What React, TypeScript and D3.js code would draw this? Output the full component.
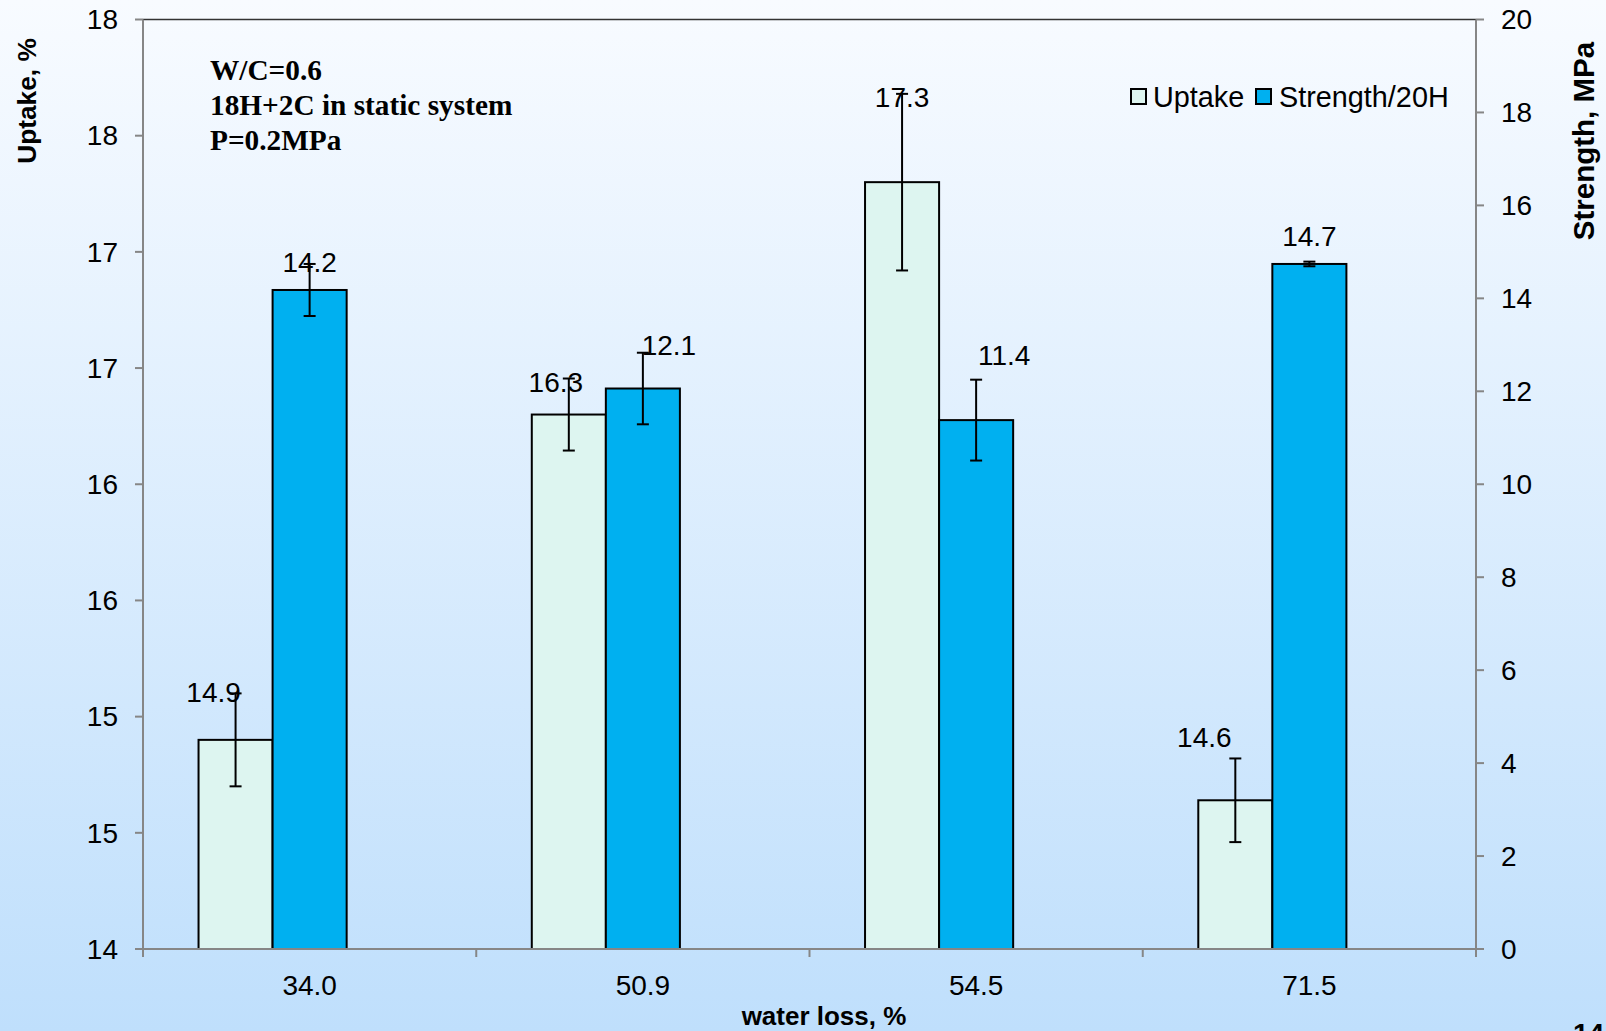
import React from "react";
import * as d3 from "d3";

// Water loss categories (x axis)
const categories = ["34.0", "50.9", "54.5", "71.5"];
// Uptake, % (left axis) and its error
const uptake = [14.9, 16.3, 17.3, 14.64];
const uptakeErr = [0.2, 0.155, 0.38, 0.18];
// Strength after 20 h, MPa (right axis) and its error
const strength = [14.18, 12.06, 11.38, 14.74];
const strengthErr = [0.56, 0.77, 0.87, 0.05];

const leftTicks = d3.range(14, 18.001, 0.5);
const rightTicks = d3.range(0, 20.001, 2);
const noteLines = ["W/C=0.6", "18H+2C in static system", "P=0.2MPa"];

const W = 1606;
const H = 1031;
const M = { left: 143, right: 1476, top: 19.5, bottom: 949 };
const SANS = "'Liberation Sans', Arial, sans-serif";
const SERIF = "'Liberation Serif', 'Times New Roman', serif";
const AXIS = "#868686";

// hand-placed data label nudges (dx, dy above bar top)
const uptakeLabelNudge = [[-22, 38], [-13, 23], [0, 75], [-31, 53]];
const strengthLabelNudge = [[0, 18], [26, 34], [28, 55], [0, 18]];

export default function App() {
  const x = d3
    .scaleBand<string>()
    .domain(categories)
    .range([M.left, M.right])
    .paddingInner(1 / 3)
    .paddingOuter(1 / 6);
  const slot = d3
    .scaleBand<string>()
    .domain(["uptake", "strength", "spare"])
    .range([0, x.bandwidth()]);
  const yL = d3.scaleLinear().domain([14, 18]).range([M.bottom, M.top]);
  const yR = d3.scaleLinear().domain([0, 20]).range([M.bottom, M.top]);
  const fmt0 = d3.format(".0f");
  const fmt1 = d3.format(".1f");
  const step = x.step();
  const bounds = d3.range(categories.length + 1).map((i) => M.left + i * step);

  const series = [
    { key: "uptake", vals: uptake, err: uptakeErr, y: yL, base: 14, fill: "#ddf5f0", nudge: uptakeLabelNudge },
    { key: "strength", vals: strength, err: strengthErr, y: yR, base: 0, fill: "#00b0f0", nudge: strengthLabelNudge },
  ];

  return (
    <svg
      width={W}
      height={H}
      style={{ position: "absolute", left: 0, top: 0, display: "block" }}
    >
      <defs>
        <linearGradient id="bg" x1="0" y1="0" x2="0" y2="1">
          <stop offset="0" stopColor="#f8fbff" />
          <stop offset="1" stopColor="#bfdffc" />
        </linearGradient>
      </defs>
      <rect x={0} y={0} width={W} height={H} fill="url(#bg)" />

      {/* bars */}
      {series.map((s) =>
        categories.map((c, i) => {
          const bx = (x(c) as number) + (slot(s.key) as number);
          const top = s.y(s.vals[i]);
          return (
            <rect
              key={s.key + c}
              x={bx}
              y={top}
              width={slot.bandwidth()}
              height={s.y(s.base) - top}
              fill={s.fill}
              stroke="#000"
              strokeWidth={2}
            />
          );
        })
      )}

      {/* error bars */}
      {series.map((s) =>
        categories.map((c, i) => {
          const cx = (x(c) as number) + (slot(s.key) as number) + slot.bandwidth() / 2;
          const y1 = s.y(s.vals[i] + s.err[i]);
          const y2 = s.y(s.vals[i] - s.err[i]);
          return (
            <g key={"e" + s.key + c} stroke="#000" strokeWidth={2}>
              <line x1={cx} x2={cx} y1={y1} y2={y2} />
              <line x1={cx - 6} x2={cx + 6} y1={y1} y2={y1} />
              <line x1={cx - 6} x2={cx + 6} y1={y2} y2={y2} />
            </g>
          );
        })
      )}

      {/* data labels */}
      {series.map((s) =>
        categories.map((c, i) => {
          const cx = (x(c) as number) + (slot(s.key) as number) + slot.bandwidth() / 2;
          const top = s.y(s.vals[i]);
          return (
            <text
              key={"l" + s.key + c}
              x={cx + s.nudge[i][0]}
              y={top - s.nudge[i][1]}
              textAnchor="middle"
              fontFamily={SANS}
              fontSize={28}
              fill="#000"
            >
              {fmt1(s.vals[i])}
            </text>
          );
        })
      )}

      {/* plot frame top */}
      <line x1={M.left} x2={M.right} y1={M.top} y2={M.top} stroke="#333" strokeWidth={1.5} />

      {/* left axis */}
      <line x1={M.left} x2={M.left} y1={M.top} y2={M.bottom} stroke={AXIS} strokeWidth={2} />
      {leftTicks.map((t) => (
        <g key={"lt" + t}>
          <line x1={M.left - 8} x2={M.left} y1={yL(t)} y2={yL(t)} stroke={AXIS} strokeWidth={2} />
          <text
            x={M.left - 25}
            y={yL(t)}
            dy="0.35em"
            textAnchor="end"
            fontFamily={SANS}
            fontSize={28}
            fill="#000"
          >
            {fmt0(t)}
          </text>
        </g>
      ))}

      {/* right axis */}
      <line x1={M.right} x2={M.right} y1={M.top} y2={M.bottom} stroke={AXIS} strokeWidth={2} />
      {rightTicks.map((t) => (
        <g key={"rt" + t}>
          <line x1={M.right} x2={M.right + 8} y1={yR(t)} y2={yR(t)} stroke={AXIS} strokeWidth={2} />
          <text
            x={M.right + 25}
            y={yR(t)}
            dy="0.35em"
            textAnchor="start"
            fontFamily={SANS}
            fontSize={28}
            fill="#000"
          >
            {t}
          </text>
        </g>
      ))}

      {/* bottom axis */}
      <line x1={M.left} x2={M.right} y1={M.bottom} y2={M.bottom} stroke={AXIS} strokeWidth={2} />
      {bounds.map((b, i) => (
        <line key={"xt" + i} x1={b} x2={b} y1={M.bottom} y2={M.bottom + 8} stroke={AXIS} strokeWidth={2} />
      ))}
      {categories.map((c) => (
        <text
          key={"xl" + c}
          x={(x(c) as number) + x.bandwidth() / 2}
          y={995}
          textAnchor="middle"
          fontFamily={SANS}
          fontSize={28}
          fill="#000"
        >
          {c}
        </text>
      ))}

      {/* axis titles */}
      <text
        x={824}
        y={1025}
        textAnchor="middle"
        fontFamily={SANS}
        fontSize={26}
        fontWeight="bold"
        fill="#000"
      >
        water loss, %
      </text>
      <text
        transform="translate(36,101) rotate(-90)"
        textAnchor="middle"
        fontFamily={SANS}
        fontSize={26.3}
        fontWeight="bold"
        fill="#000"
      >
        Uptake, %
      </text>
      <text
        transform="translate(1594,141) rotate(-90)"
        textAnchor="middle"
        fontFamily={SANS}
        fontSize={29.5}
        fontWeight="bold"
        fill="#000"
      >
        Strength, MPa
      </text>

      {/* annotation */}
      {noteLines.map((l, i) => (
        <text
          key={"n" + i}
          x={210}
          y={80 + i * 35}
          fontFamily={SERIF}
          fontSize={29.3}
          fontWeight="bold"
          fill="#000"
        >
          {l}
        </text>
      ))}

      {/* legend */}
      <g fontFamily={SANS} fontSize={28.8} fill="#000">
        <rect x={1131} y={89} width={15} height={15} fill="#ddf5f0" stroke="#000" strokeWidth={2} />
        <text x={1153} y={107}>Uptake</text>
        <rect x={1256} y={89} width={15} height={15} fill="#00b0f0" stroke="#000" strokeWidth={2} />
        <text x={1279} y={107}>Strength/20H</text>
      </g>

      {/* page number */}
      <text x={1573} y={1043} fontFamily={SANS} fontSize={28} fontWeight="bold" fill="#000">
        14
      </text>
    </svg>
  );
}
